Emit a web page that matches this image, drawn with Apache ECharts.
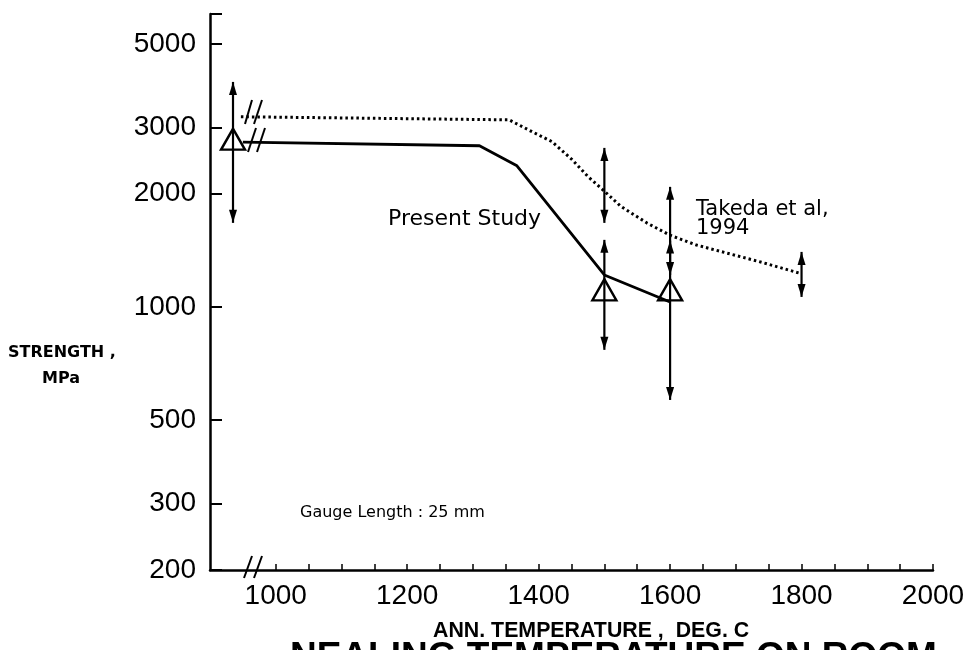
<!DOCTYPE html>
<html><head><meta charset="utf-8">
<script src="https://cdn.jsdelivr.net/npm/echarts@6/dist/echarts.min.js"></script>
<style>html,body{margin:0;padding:0;background:#fff}#c{width:970px;height:650px}</style>
</head><body><div id="c"></div>
<script>
// ---- data ----
const xTickLabels = [1000, 1200, 1400, 1600, 1800, 2000];
const xMinorTicks = [1000,1050,1100,1150,1200,1250,1300,1350,1400,1450,1500,1550,1600,1650,1700,1750,1800,1850,1900,1950,2000];
const yTickLabels = [200, 300, 500, 1000, 2000, 3000, 5000];
const yTicks = [200, 300, 500, 1000, 2000, 3000, 5000, 6000];

const presentTemps = [950, 1310, 1367, 1500, 1600];
const presentStrength = [2740, 2680, 2370, 1216, 1030];
const presentMeanTemps = [935, 1500, 1600];
const presentMean = [2790, 1110, 1110];
const presentErrTemps = [935, 1500, 1600];
const presentErrLow = [1672, 769, 566];
const presentErrHigh = [3960, 1507, 1500];

const takedaTemps = [947, 1355, 1390, 1420, 1450, 1475, 1500, 1525, 1565, 1600, 1640, 1735, 1800];
const takedaStrength = [3200, 3140, 2920, 2750, 2470, 2220, 2030, 1850, 1670, 1550, 1460, 1320, 1225];
const takedaErrTemps = [1500, 1600, 1800];
const takedaErrLow = [1672, 1216, 1063];
const takedaErrHigh = [2645, 2084, 1400];

// ---- build ----
const zip2 = (a, b) => a.map((v, i) => [v, b[i]]);
const zip3 = (a, b, c) => a.map((v, i) => [v, b[i], c[i]]);

function errRender(params, api) {
  const x = api.value(0), lo = api.value(1), hi = api.value(2);
  const pLo = api.coord([x, lo]), pHi = api.coord([x, hi]);
  const w = 4, h = 13;
  return {
    type: 'group', children: [
      { type: 'line', shape: { x1: pLo[0], y1: pLo[1], x2: pHi[0], y2: pHi[1] }, style: { stroke: '#000', lineWidth: 2.2 } },
      { type: 'polygon', shape: { points: [[pHi[0], pHi[1]], [pHi[0] - w, pHi[1] + h], [pHi[0] + w, pHi[1] + h]] }, style: { fill: '#000' } },
      { type: 'polygon', shape: { points: [[pLo[0], pLo[1]], [pLo[0] - w, pLo[1] - h], [pLo[0] + w, pLo[1] - h]] }, style: { fill: '#000' } }
    ]
  };
}

const chart = echarts.init(document.getElementById('c'), null, { renderer: 'canvas' });
const labelFont = 'Liberation Sans';
chart.setOption({
  animation: false,
  backgroundColor: '#fff',
  grid: { left: 210, right: 37, top: 14, bottom: 80, containLabel: false },
  xAxis: {
    type: 'value', min: 900, max: 2000,
    axisLine: { show: true, lineStyle: { color: '#000', width: 2.5 } },
    axisTick: { show: true, inside: true, length: 6, lineStyle: { color: '#000', width: 1.5 }, customValues: xMinorTicks },
    axisLabel: { show: true, customValues: xTickLabels, formatter: v => String(v), color: '#000', fontSize: 28, fontFamily: labelFont, margin: 12 },
    splitLine: { show: false }
  },
  yAxis: {
    type: 'log', logBase: 10, min: 200, max: 6000,
    axisLine: { show: true, lineStyle: { color: '#000', width: 2.5 } },
    axisTick: { show: true, inside: true, length: 12, lineStyle: { color: '#000', width: 2 }, customValues: yTicks },
    axisLabel: { show: true, customValues: yTickLabels, formatter: v => String(Math.round(v)), color: '#000', fontSize: 28, fontFamily: labelFont, margin: 14 },
    splitLine: { show: false }
  },
  series: [
    {
      name: 'Takeda et al, 1994', type: 'line', data: zip2(takedaTemps, takedaStrength),
      symbol: 'none', smooth: false,
      lineStyle: { color: '#000', width: 3, type: [2.5, 3] }, z: 2
    },
    {
      name: 'Present Study', type: 'line', data: zip2(presentTemps, presentStrength),
      symbol: 'none', lineStyle: { color: '#000', width: 2.8 }, z: 3
    },
    {
      name: 'Present Study mean', type: 'scatter', data: zip2(presentMeanTemps, presentMean),
      symbol: 'triangle', symbolSize: [24, 21],
      itemStyle: { color: 'rgba(255,255,255,0)', borderColor: '#000', borderWidth: 2.4, opacity: 1 }, z: 5
    },
    {
      name: 'Present Study range', type: 'custom', renderItem: errRender,
      data: zip3(presentErrTemps, presentErrLow, presentErrHigh), encode: { x: 0, y: [1, 2] }, z: 4
    },
    {
      name: 'Takeda range', type: 'custom', renderItem: errRender,
      data: zip3(takedaErrTemps, takedaErrLow, takedaErrHigh), encode: { x: 0, y: [1, 2] }, z: 4
    }
  ],
  graphic: [
    { type: 'text', left: 8, top: 345, style: { text: 'STRENGTH ,', font: 'bold 16px "DejaVu Sans"', fill: '#000' } },
    { type: 'text', left: 42, top: 371, style: { text: 'MPa', font: 'bold 16px "DejaVu Sans"', fill: '#000' } },
    { type: 'text', left: 388, top: 208, style: { text: 'Present Study', font: '22px "DejaVu Sans"', fill: '#000' } },
    { type: 'text', left: 696, top: 199, style: { text: 'Takeda et al,', font: '21px "DejaVu Sans"', fill: '#000' } },
    { type: 'text', left: 696, top: 218, style: { text: '1994', font: '21px "DejaVu Sans"', fill: '#000' } },
    { type: 'text', left: 300, top: 505, style: { text: 'Gauge Length : 25 mm', font: '16px "DejaVu Sans"', fill: '#000' } },
    { type: 'text', x: 433, y: 620, scaleX: 0.97, style: { text: 'ANN. TEMPERATURE ,  DEG. C', font: 'bold 22px "Liberation Sans"', fill: '#000' } },
    { type: 'text', x: 290, y: 639, style: { text: 'NEALING TEMPERATURE ON ROOM', font: 'bold 37px "Liberation Sans"', fill: '#000' } },
    // axis break marks
    { type: 'line', shape: { x1: 244, y1: 578, x2: 252, y2: 556 }, style: { stroke: '#000', lineWidth: 2 } },
    { type: 'line', shape: { x1: 254, y1: 578, x2: 262, y2: 556 }, style: { stroke: '#000', lineWidth: 2 } },
    // line break marks
    { type: 'line', shape: { x1: 245, y1: 124, x2: 252, y2: 100 }, style: { stroke: '#000', lineWidth: 2 } },
    { type: 'line', shape: { x1: 254, y1: 124, x2: 262, y2: 100 }, style: { stroke: '#000', lineWidth: 2 } },
    { type: 'line', shape: { x1: 248, y1: 152, x2: 256, y2: 128 }, style: { stroke: '#000', lineWidth: 2 } },
    { type: 'line', shape: { x1: 257, y1: 152, x2: 265, y2: 128 }, style: { stroke: '#000', lineWidth: 2 } }
  ]
});
</script>
</body></html>
